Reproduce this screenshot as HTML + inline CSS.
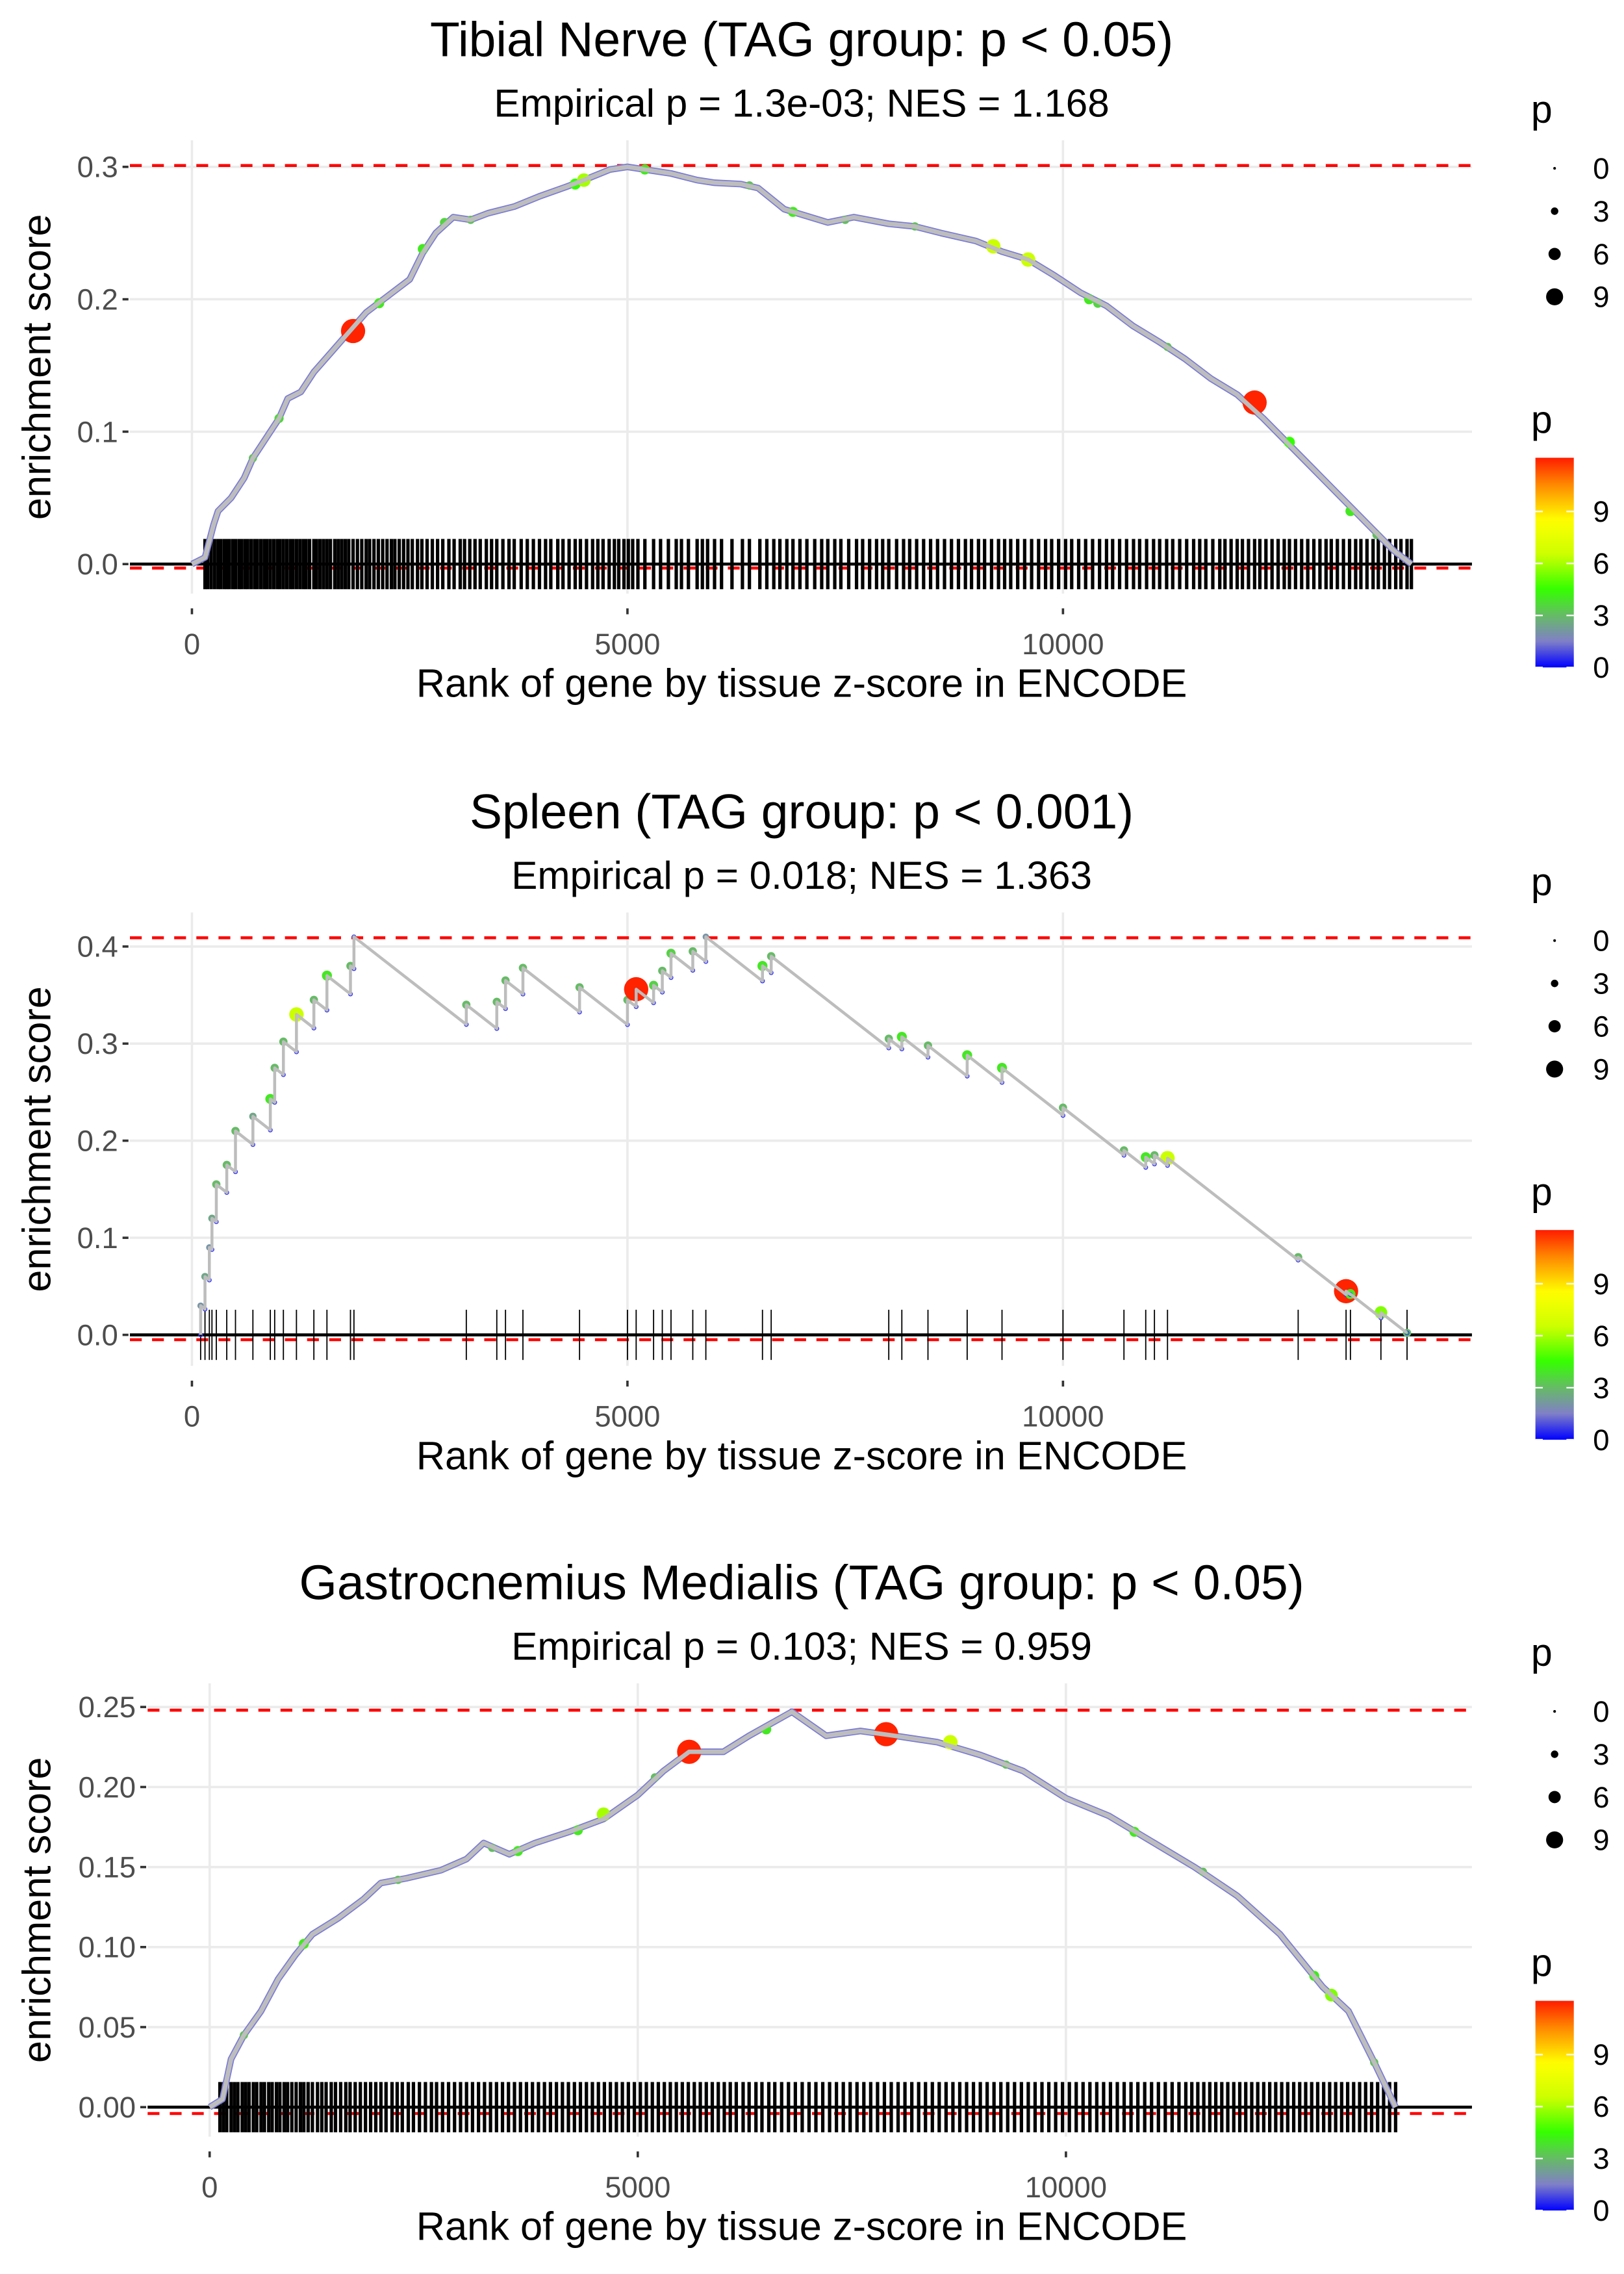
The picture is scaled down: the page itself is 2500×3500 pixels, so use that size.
<!DOCTYPE html>
<html><head><meta charset="utf-8"><style>
html,body{margin:0;padding:0;background:#fff;}
svg{display:block;font-family:"Liberation Sans",sans-serif;}
</style></head><body>
<svg id="chart" width="2500" height="3500" viewBox="0 0 1100 1540" xmlns="http://www.w3.org/2000/svg"></svg>
<script>
// ---------- DATA ----------
const xTicks = [0, 5000, 10000];
const xTickLabels = ["0", "5000", "10000"];
const titles = ["Tibial Nerve (TAG group: p < 0.05)", "Spleen (TAG group: p < 0.001)", "Gastrocnemius Medialis (TAG group: p < 0.05)"];
const subtitles = ["Empirical p = 1.3e-03; NES = 1.168", "Empirical p = 0.018; NES = 1.363", "Empirical p = 0.103; NES = 0.959"];
const yTicks1 = [0.0, 0.1, 0.2, 0.3];
const yTickLabels1 = ["0.0", "0.1", "0.2", "0.3"];
const yTicks2 = [0.0, 0.1, 0.2, 0.3, 0.4];
const yTickLabels2 = ["0.0", "0.1", "0.2", "0.3", "0.4"];
const yTicks3 = [0.0, 0.05, 0.1, 0.15, 0.2, 0.25];
const yTickLabels3 = ["0.00", "0.05", "0.10", "0.15", "0.20", "0.25"];
const esMax = [0.301, 0.409, 0.248];
const esMin = [-0.003, -0.005, -0.004];

// Panel 1 curve
const curveRank1 = [0,150,250,300,450,600,700,850,1000,1100,1250,1400,1600,1800,2000,2200,2400,2500,2650,2800,3000,3200,3400,3700,4000,4300,4500,4800,5000,5200,5500,5800,6000,6300,6500,6800,7000,7300,7600,8000,8300,8600,9000,9300,9600,9900,10200,10500,10800,11100,11400,11700,12000,12300,12600,12900,13200,13500,13800,14000];
const curveES1 = [0,0.005,0.03,0.04,0.05,0.065,0.08,0.095,0.11,0.125,0.13,0.145,0.16,0.175,0.19,0.2,0.21,0.215,0.235,0.25,0.262,0.26,0.265,0.27,0.278,0.285,0.29,0.298,0.3,0.298,0.295,0.29,0.288,0.287,0.284,0.268,0.264,0.258,0.262,0.257,0.255,0.25,0.244,0.236,0.23,0.218,0.205,0.195,0.18,0.168,0.155,0.14,0.128,0.11,0.09,0.07,0.05,0.03,0.01,0];
const ptRank1 = [700,1000,1850,2150,2650,2900,3200,4400,4500,5200,6400,6900,7500,8300,9200,9600,10300,10400,11200,12200,12600,13300,13600];
const ptES1 = [0.08,0.11,0.176,0.197,0.238,0.258,0.26,0.287,0.29,0.298,0.286,0.266,0.26,0.255,0.24,0.23,0.2,0.197,0.164,0.122,0.092,0.04,0.022];
const ptP1 = [3,3.5,12,4,4,3.5,3,4.5,6,4,3,4,3,3,6.5,6.5,4,3.5,3,12,4.5,4,3];
const rug1 = [150,180,220,260,300,330,370,400,430,470,500,540,570,610,640,680,720,750,790,830,860,900,940,980,1010,1050,1090,1130,1160,1200,1240,1280,1310,1350,1400,1430,1470,1510,1550,1590,1640,1680,1720,1760,1800,1850,1900,1950,2000,2040,2090,2140,2190,2240,2290,2330,2380,2430,2480,2530,2590,2640,2700,2760,2820,2880,2950,3010,3080,3130,3190,3250,3310,3380,3440,3500,3570,3640,3700,3780,3850,3920,3990,4060,4120,4200,4260,4330,4400,4460,4530,4600,4660,4720,4790,4850,4900,4960,5010,5060,5120,5200,5300,5380,5470,5560,5620,5700,5800,5860,5920,6000,6080,6200,6320,6400,6520,6600,6680,6750,6830,6900,6980,7060,7150,7230,7300,7380,7450,7540,7630,7700,7780,7860,7930,8000,8090,8170,8240,8320,8400,8480,8560,8640,8720,8800,8880,8950,9030,9100,9180,9260,9330,9400,9480,9560,9640,9720,9800,9870,9950,10030,10100,10180,10260,10340,10420,10500,10570,10650,10730,10810,10880,10960,11040,11110,11190,11260,11340,11420,11500,11570,11640,11720,11800,11860,11930,12000,12060,12130,12200,12260,12330,12400,12470,12540,12600,12670,12740,12810,12880,12950,13020,13080,13150,13220,13290,13360,13420,13490,13560,13620,13690,13750,13820,13880,13950,14000];

// Panel 2 hits
const hitRank2 = [100,150,200,230,280,400,500,700,900,950,1050,1200,1400,1550,1820,1860,3150,3500,3600,3800,4450,5000,5100,5300,5400,5500,5750,5900,6550,6650,8000,8150,8450,8900,9300,10000,10700,10950,11050,11200,12700,13250,13300,13650,13950];
const hitES2 = [0.03,0.06,0.09,0.12,0.155,0.175,0.21,0.225,0.243,0.275,0.302,0.33,0.345,0.37,0.38,0.41,0.34,0.343,0.365,0.378,0.358,0.345,0.356,0.36,0.375,0.393,0.395,0.41,0.38,0.39,0.305,0.307,0.298,0.288,0.275,0.234,0.19,0.183,0.185,0.182,0.08,0.045,0.042,0.023,0.002];
const hitP2 = [2,2.5,2,2.5,3,3,3,2.5,4,3,3,6.5,3,4,3,1,3,3,3,3,3,3,12,3.5,3,3.5,3,2,4,3,3,4,3,4,4,3,3,4,3,6.5,3,12,4,5.5,3];
const decayPerRank2 = 7e-5;

// Panel 3 curve
const curveRank3 = [0,150,250,400,600,800,1000,1200,1500,1800,2000,2300,2700,3000,3200,3500,3800,4200,4600,5000,5300,5600,6000,6300,6800,7200,7600,8000,8500,9000,9500,10000,10500,11000,11500,12000,12500,13000,13300,13600,13850];
const curveES3 = [0,0.005,0.03,0.045,0.06,0.08,0.095,0.108,0.118,0.13,0.14,0.143,0.148,0.155,0.165,0.158,0.165,0.172,0.18,0.195,0.21,0.222,0.222,0.232,0.247,0.232,0.235,0.232,0.228,0.22,0.21,0.193,0.182,0.166,0.15,0.132,0.108,0.075,0.06,0.028,0];
const ptRank3 = [400,1100,2200,3300,3600,4300,4600,5200,5600,6500,7900,8650,9300,10800,11600,12900,13100,13600];
const ptES3 = [0.045,0.102,0.142,0.162,0.16,0.173,0.183,0.206,0.222,0.236,0.233,0.228,0.214,0.172,0.147,0.082,0.07,0.028];
const ptP3 = [3,4,3,3,4,4,6,3,12,4,12,6.5,3,4,3,4,5.5,3];
const rug3 = [120,160,200,250,290,330,380,420,460,510,550,600,640,690,730,780,820,870,910,960,1010,1060,1100,1150,1200,1260,1310,1360,1420,1470,1530,1590,1640,1700,1760,1820,1880,1940,2000,2060,2130,2190,2250,2320,2380,2450,2520,2590,2650,2720,2790,2860,2930,3000,3070,3140,3210,3280,3350,3420,3490,3560,3630,3700,3770,3840,3910,3980,4050,4120,4190,4260,4330,4400,4470,4540,4610,4680,4750,4820,4890,4960,5030,5100,5170,5240,5310,5380,5450,5520,5590,5660,5730,5800,5870,5940,6010,6080,6150,6230,6300,6380,6450,6530,6600,6680,6760,6840,6920,7000,7080,7160,7240,7320,7400,7480,7560,7640,7720,7800,7880,7960,8040,8120,8200,8280,8360,8440,8520,8600,8680,8760,8840,8920,9000,9080,9160,9240,9320,9400,9480,9560,9640,9720,9800,9880,9960,10040,10120,10200,10280,10360,10440,10520,10600,10680,10760,10840,10920,11000,11080,11160,11240,11320,11400,11470,11540,11610,11680,11750,11820,11890,11960,12030,12100,12170,12240,12310,12380,12450,12520,12590,12660,12730,12800,12870,12940,13010,13080,13150,13220,13290,13360,13430,13500,13570,13640,13710,13780,13850];

// ---------- DRAWING ----------
const NS = "http://www.w3.org/2000/svg";
const svg = document.getElementById("chart");
function mk(tag, attrs, parent, text) {
  const e = document.createElementNS(NS, tag);
  for (const k in attrs) e.setAttribute(k, attrs[k]);
  if (text !== undefined) e.textContent = text;
  (parent || svg).appendChild(e);
  return e;
}
function pColor(p) {
  const stops = [[0,[0,0,255]],[1.5,[128,128,200]],[3,[102,187,102]],[4.5,[51,255,0]],[6.5,[204,255,0]],[8.5,[255,255,0]],[10.5,[255,140,0]],[12.5,[255,0,0]]];
  if (p <= 0) return "rgb(0,0,255)";
  for (let i = 1; i < stops.length; i++) {
    if (p <= stops[i][0]) {
      const a = stops[i-1], b = stops[i], t = (p - a[0]) / (b[0] - a[0]);
      const c = a[1].map((v, j) => Math.round(v + (b[1][j] - v) * t));
      return "rgb(" + c.join(",") + ")";
    }
  }
  return "rgb(255,0,0)";
}
function pRadius(p) { return 1 + 0.6 * p; }

const panels = [
  {top:0, left:88, x0:130, x1:720, yTop:113, yBot:382, vTop:0.3, yTicks:yTicks1, yLabels:yTickLabels1, panelTop:95, panelBot:402, rug:rug1},
  {top:523, left:88, x0:130, x1:720, yTop:641, yBot:904, vTop:0.4, yTicks:yTicks2, yLabels:yTickLabels2, panelTop:618, panelBot:925, rug:null},
  {top:1045, left:100, x0:142, x1:722, yTop:1156, yBot:1427, vTop:0.25, yTicks:yTicks3, yLabels:yTickLabels3, panelTop:1140, panelBot:1447, rug:rug3}
];

panels.forEach((P, idx) => {
  const g = mk("g", {});
  
  
  const xs = r => P.x0 + (P.x1 - P.x0) * r / 10000;
  const ys = v => P.yBot - (P.yBot - P.yTop) * v / P.vTop;
  const right = 997;
  const t = mk("text", {x: 543, y: P.top + 38, "text-anchor": "middle", "font-size": 33, fill: "#000"}, g, titles[idx]);
  
  
  const st = mk("text", {x: 543, y: P.top + 79, "text-anchor": "middle", "font-size": 26.5, fill: "#000"}, g, subtitles[idx]);
  
  
  P.yTicks.forEach((v, i) => {
    const gl = mk("line", {x1: P.left, x2: right, y1: ys(v), y2: ys(v), stroke: "#ebebeb", "stroke-width": 1.6}, g);
    
    
    mk("line", {x1: P.left - 5, x2: P.left - 1, y1: ys(v), y2: ys(v), stroke: "#333", "stroke-width": 1.6}, g);
    const tl = mk("text", {x: P.left - 8, y: ys(v) + 7, "text-anchor": "end", "font-size": 20, fill: "#4d4d4d"}, g, P.yLabels[i]);
    
    
  });
  xTicks.forEach((r, i) => {
    const gl = mk("line", {x1: xs(r), x2: xs(r), y1: P.panelTop, y2: P.panelBot, stroke: "#ebebeb", "stroke-width": 1.6}, g);
    
    
    mk("line", {x1: xs(r), x2: xs(r), y1: P.panelBot + 10, y2: P.panelBot + 14, stroke: "#333", "stroke-width": 1.6}, g);
    const tl = mk("text", {x: xs(r), y: P.panelBot + 41, "text-anchor": "middle", "font-size": 20, fill: "#4d4d4d"}, g, xTickLabels[i]);
    
    
  });
  const xt = mk("text", {x: 543, y: P.panelBot + 70, "text-anchor": "middle", "font-size": 27, fill: "#000"}, g, "Rank of gene by tissue z-score in ENCODE");
  
  
  const ycy = (P.panelTop + P.panelBot) / 2;
  const yt = mk("text", {x: 0, y: 0, transform: "translate(34," + ycy + ") rotate(-90)", "text-anchor": "middle", "font-size": 27, fill: "#000"}, g, "enrichment score");
  
  
  [esMax[idx], esMin[idx]].forEach(v => {
    const dl = mk("line", {x1: P.left, x2: right, y1: ys(v), y2: ys(v), stroke: "#ff0000", "stroke-width": 2, "stroke-dasharray": "8,7"}, g);
    
    
  });
  let rugRanks = P.rug || hitRank2;
  rugRanks.forEach(r => {
    const rl = mk("line", {x1: xs(r), x2: xs(r), y1: ys(0) - 17, y2: ys(0) + 17, stroke: "#000", "stroke-width": P.rug ? 2.3 : 0.8}, g);
    
    
  });
  const zl = mk("line", {x1: P.left, x2: right, y1: ys(0), y2: ys(0), stroke: "#000", "stroke-width": 2}, g);
  
  
  let pts = [], dots = [];
  if (idx === 1) {
    let prevR = hitRank2[0], prevV = 0;
    pts.push([xs(prevR), ys(0)]);
    hitRank2.forEach((r, i) => {
      const pre = Math.max(0, prevV - decayPerRank2 * (r - prevR));
      pts.push([xs(r), ys(pre)]);
      pts.push([xs(r), ys(hitES2[i])]);
      dots.push([xs(r), ys(hitES2[i]), hitP2[i], ys(pre)]);
      prevR = r; prevV = hitES2[i];
    });
  } else {
    const cr = idx === 0 ? curveRank1 : curveRank3, ce = idx === 0 ? curveES1 : curveES3;
    cr.forEach((r, i) => pts.push([xs(r), ys(ce[i])]));
    const pr = idx === 0 ? ptRank1 : ptRank3, pe = idx === 0 ? ptES1 : ptES3, pp = idx === 0 ? ptP1 : ptP3;
    pr.forEach((r, i) => dots.push([xs(r), ys(pe[i]), pp[i]]));
  }
  const d = pts.map((p, i) => (i ? "L" : "M") + p[0].toFixed(2) + "," + p[1].toFixed(2)).join(" ");
  if (idx !== 1) {
    const under = mk("path", {d: d, fill: "none", stroke: "#7b7bd6", "stroke-width": 4.5, "stroke-linejoin": "round"}, g);
    
    
  }
  dots.forEach(q => {
    const c = mk("circle", {cx: q[0], cy: q[1], r: pRadius(q[2]), fill: pColor(q[2])}, g);
    
    
    if (q[3] !== undefined) {
      const c2 = mk("circle", {cx: q[0], cy: q[3], r: 1.3, fill: "none", stroke: "#3333ff", "stroke-width": 0.6}, g);
      
      
    }
  });
  const line = mk("path", {d: d, fill: "none", stroke: "#bdbdbd", "stroke-width": idx === 1 ? 2 : 3, "stroke-linejoin": "round"}, g);
  
  

  const lg = mk("g", {}, g);
  
  
  mk("text", {x: 1037, y: P.top + 83, "font-size": 26, fill: "#000"}, lg, "p");
  [0, 3, 6, 9].forEach((v, i) => {
    const yy = P.top + 114 + i * 29;
    mk("circle", {cx: 1053, cy: yy, r: pRadius(v) * 0.9, fill: "#000"}, lg);
    mk("text", {x: 1079, y: yy + 7, "font-size": 20, fill: "#000"}, lg, String(v));
  });
  const cg = mk("g", {}, g);
  
  
  mk("text", {x: 1037, y: P.top + 293, "font-size": 26, fill: "#000"}, cg, "p");
  const gid = "grad" + idx;
  const defs = mk("defs", {}, cg);
  const lgd = mk("linearGradient", {id: gid, x1: 0, y1: 1, x2: 0, y2: 0}, defs);
  const barTop = P.top + 310, barBot = P.top + 452, pmax = 12.1;
  for (let k = 0; k <= 24; k++) {
    const p = pmax * k / 24;
    mk("stop", {offset: (k / 24), "stop-color": pColor(p)}, lgd);
  }
  mk("rect", {x: 1040, y: barTop, width: 26, height: barBot - barTop, fill: "url(#" + gid + ")"}, cg);
  [0, 3, 6, 9].forEach(v => {
    const yy = barBot - (barBot - barTop) * v / pmax;
    mk("line", {x1: 1040, x2: 1045, y1: yy, y2: yy, stroke: "#fff", "stroke-width": 1}, cg);
    mk("line", {x1: 1061, x2: 1066, y1: yy, y2: yy, stroke: "#fff", "stroke-width": 1}, cg);
    mk("text", {x: 1079, y: yy + 7, "font-size": 20, fill: "#000"}, cg, String(v));
  });
});
</script>
</body></html>
